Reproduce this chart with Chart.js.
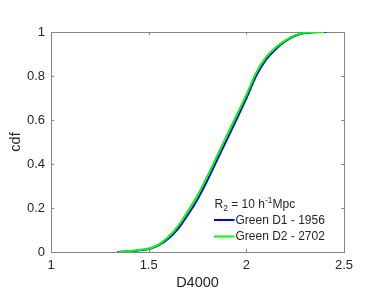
<!DOCTYPE html>
<html>
<head>
<meta charset="utf-8">
<script src="https://cdn.jsdelivr.net/npm/chart.js@4/dist/chart.umd.min.js"></script>
<style>
  html, body { margin: 0; padding: 0; background: #fff; }
  canvas { display: block; }
</style>
</head>
<body>
<canvas id="chart" width="382" height="305"></canvas>
<script>
// D4000 values and cumulative fractions
const d4000Blue = [1.34, 1.40, 1.45, 1.50, 1.55, 1.60, 1.65, 1.70, 1.75, 1.80, 1.85, 1.90, 1.95, 2.00, 2.05, 2.10, 2.15, 2.20, 2.25, 2.30, 2.35, 2.41];
const cdfBlue   = [0, 0.003, 0.007, 0.014, 0.030, 0.060, 0.105, 0.168, 0.240, 0.325, 0.418, 0.510, 0.603, 0.698, 0.800, 0.873, 0.922, 0.958, 0.983, 0.995, 0.999, 1.0];

const d4000Green = [1.345, 1.40, 1.45, 1.50, 1.55, 1.60, 1.65, 1.70, 1.75, 1.80, 1.85, 1.90, 1.95, 2.00, 2.05, 2.10, 2.15, 2.20, 2.25, 2.30, 2.35, 2.40];
const cdfGreen   = [0, 0.004, 0.009, 0.016, 0.034, 0.068, 0.118, 0.185, 0.258, 0.345, 0.437, 0.530, 0.622, 0.714, 0.815, 0.885, 0.930, 0.962, 0.985, 0.996, 0.999, 1.0];

const seriesNames = ['Green D1 - 1956', 'Green D2 - 2702'];
const seriesColors = ['#0000ff', '#00ff00'];

const xTickValues = [1, 1.5, 2, 2.5];
const xTickLabels = ['1', '1.5', '2', '2.5'];
const yTickValues = [0, 0.2, 0.4, 0.6, 0.8, 1];
const yTickLabels = ['0', '0.2', '0.4', '0.6', '0.8', '1'];

const textColor = '#262626';
const boxColor = '#858585';

Chart.defaults.font.family = '"Liberation Sans", Arial, sans-serif';
Chart.defaults.color = textColor;

function toPoints(xs, ys) {
    return xs.map((x, i) => ({ x: x, y: ys[i] }));
}

// box around the plot with MATLAB style inward ticks
const boxPlugin = {
    id: 'box',
    beforeDatasetsDraw(chart) {
        const ctx = chart.ctx;
        const a = chart.chartArea;
        const xs = chart.scales.x;
        const ys = chart.scales.y;
        const len = 3;
        ctx.save();
        ctx.strokeStyle = boxColor;
        ctx.lineWidth = 1;
        ctx.strokeRect(Math.round(a.left) + 0.5, Math.round(a.top) + 0.5,
            Math.round(a.right - a.left), Math.round(a.bottom - a.top));
        ctx.beginPath();
        xTickValues.forEach(v => {
            const px = Math.round(xs.getPixelForValue(v)) + 0.5;
            ctx.moveTo(px, a.bottom); ctx.lineTo(px, a.bottom - len);
            ctx.moveTo(px, a.top); ctx.lineTo(px, a.top + len);
        });
        yTickValues.forEach(v => {
            const py = Math.round(ys.getPixelForValue(v)) + 0.5;
            ctx.moveTo(a.left, py); ctx.lineTo(a.left + len, py);
            ctx.moveTo(a.right, py); ctx.lineTo(a.right - len, py);
        });
        ctx.stroke();
        ctx.restore();
    }
};

// legend with title "R2 = 10 h^-1 Mpc"
const legendPlugin = {
    id: 'matLegend',
    afterDatasetsDraw(chart) {
        const ctx = chart.ctx;
        const a = chart.chartArea;
        const big = '12px "Liberation Sans", Arial, sans-serif';
        const small = '8.5px "Liberation Sans", Arial, sans-serif';
        ctx.save();
        ctx.fillStyle = textColor;
        ctx.textBaseline = 'alphabetic';
        ctx.textAlign = 'left';

        let x = a.left + 163.5;
        const base = a.top + 175.5;
        const parts = [
            ['R', big, 0], ['2', small, 3], [' = 10 h', big, 0], ['-1', small, -5], ['Mpc', big, 0]
        ];
        parts.forEach(p => {
            ctx.font = p[1];
            ctx.fillText(p[0], x, base + p[2]);
            x += ctx.measureText(p[0]).width;
        });

        ctx.font = big;
        ctx.textBaseline = 'middle';
        const rows = [a.top + 188, a.top + 204.5];
        seriesNames.forEach((name, i) => {
            ctx.strokeStyle = seriesColors[i];
            ctx.lineWidth = 2;
            ctx.beginPath();
            ctx.moveTo(a.left + 163, rows[i]);
            ctx.lineTo(a.left + 183.5, rows[i]);
            ctx.stroke();
            ctx.fillText(name, a.left + 184.5, rows[i] + 0.5);
        });
        ctx.restore();
    }
};

const ctx = document.getElementById('chart').getContext('2d');
const chart = new Chart(ctx, {
    type: 'scatter',
    data: {
        datasets: [
            {
                label: seriesNames[0],
                data: toPoints(d4000Blue, cdfBlue),
                showLine: true,
                borderColor: seriesColors[0],
                borderWidth: 2,
                pointRadius: 0,
                tension: 0.3,
                order: 1
            },
            {
                label: seriesNames[1],
                data: toPoints(d4000Green, cdfGreen),
                showLine: true,
                borderColor: seriesColors[1],
                borderWidth: 2,
                pointRadius: 0,
                tension: 0.3,
                order: 0
            }
        ]
    },
    options: {
        responsive: false,
        animation: false,
        layout: { padding: { top: 32, right: 38, left: 0, bottom: 0 } },
        plugins: {
            legend: { display: false },
            tooltip: { enabled: false }
        },
        scales: {
            x: {
                type: 'linear',
                min: 1,
                max: 2.5,
                afterBuildTicks: s => { s.ticks = xTickValues.map(v => ({ value: v })); },
                afterFit: s => { s.height = 53; },
                grid: { display: false, drawTicks: false },
                border: { display: false },
                ticks: {
                    padding: 6,
                    font: { size: 13 },
                    maxRotation: 0,
                    callback: (v, i) => xTickLabels[i]
                },
                title: {
                    display: true,
                    text: 'D4000',
                    font: { size: 14.5 },
                    padding: { top: 0, bottom: 13 }
                }
            },
            y: {
                min: 0,
                max: 1,
                afterBuildTicks: s => { s.ticks = yTickValues.map(v => ({ value: v })); },
                afterFit: s => { s.width = 51; },
                grid: { display: false, drawTicks: false },
                border: { display: false },
                ticks: {
                    padding: 6,
                    font: { size: 13 },
                    callback: (v, i) => yTickLabels[i]
                },
                title: {
                    display: true,
                    text: 'cdf',
                    font: { size: 14.5 },
                    padding: { top: 7.5, bottom: 0 }
                }
            }
        }
    },
    plugins: [boxPlugin, legendPlugin]
});
</script>
</body>
</html>
